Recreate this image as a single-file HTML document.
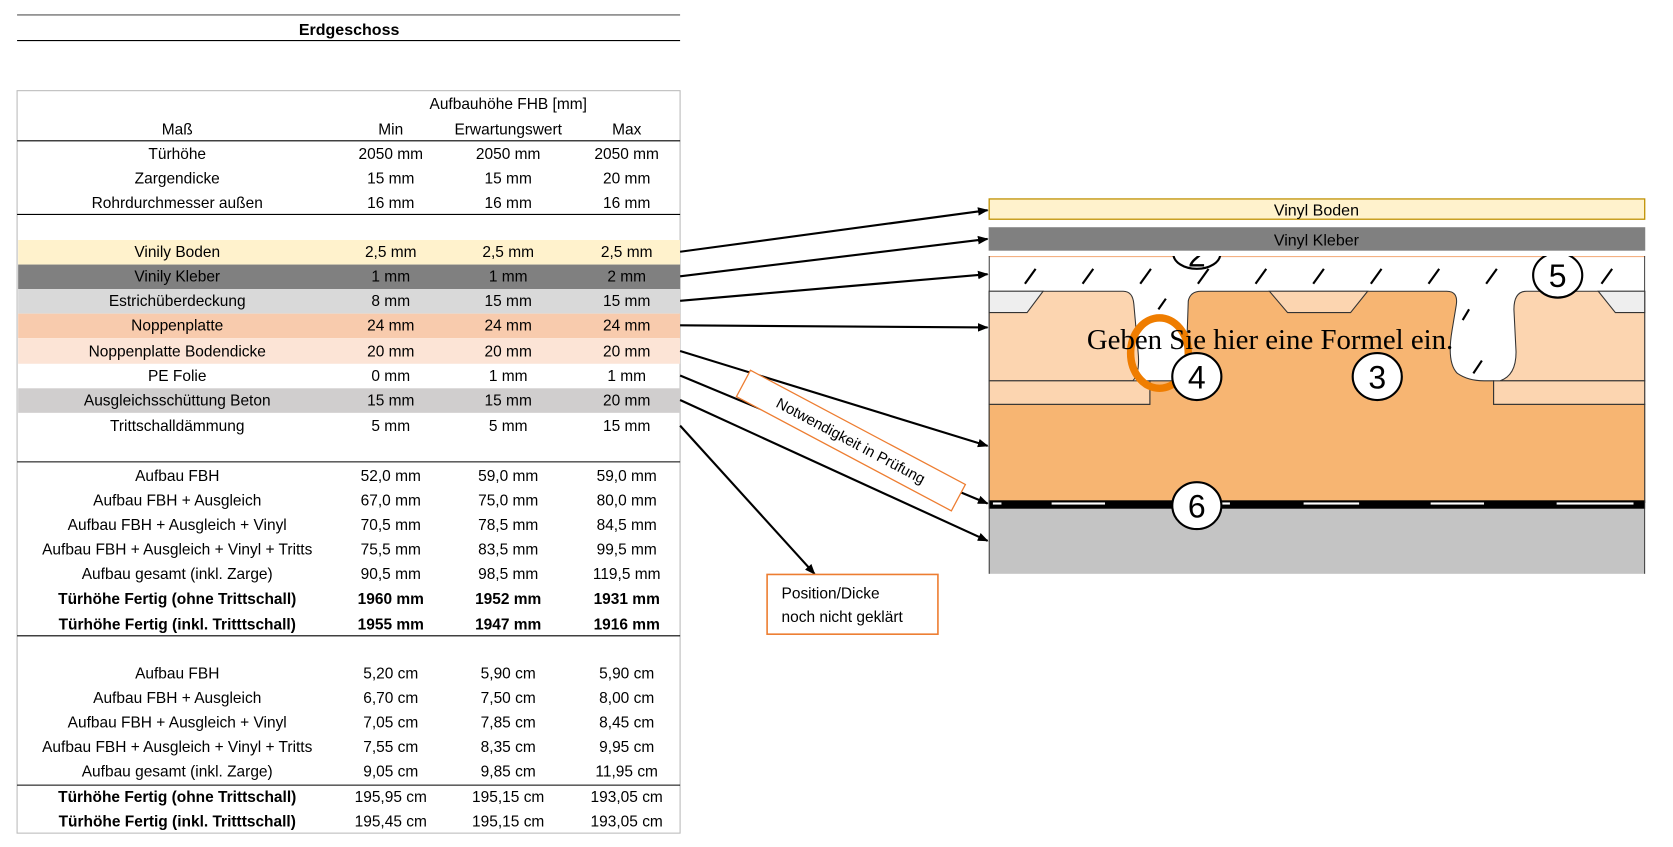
<!DOCTYPE html>
<html><head><meta charset="utf-8"><style>
html,body{margin:0;padding:0;background:#fff;width:1673px;height:847px;overflow:hidden}
svg{display:block}
text{font-family:"Liberation Sans Narrow","Liberation Sans",sans-serif;font-size:14.5px;fill:#000}
.c{text-anchor:middle}
.b{font-weight:bold}
</style></head><body>
<svg width="1673" height="847" viewBox="0 0 1567 794" preserveAspectRatio="none" xmlns="http://www.w3.org/2000/svg">
<defs>
<marker id="ar" markerWidth="10" markerHeight="10" refX="9" refY="5" orient="auto" markerUnits="userSpaceOnUse"><path d="M0,1 L10,5 L0,9 z" fill="#000"/></marker>
<clipPath id="dc"><rect x="926" y="240" width="615" height="298"/></clipPath>
</defs>
<line x1="16" y1="14" x2="637" y2="14" stroke="#555" stroke-width="1"/>
<line x1="16" y1="38" x2="637" y2="38" stroke="#000" stroke-width="1"/>
<text x="327" y="33" class="c b" style="font-size:15px">Erdgeschoss</text>
<rect x="16" y="85" width="621" height="696" fill="none" stroke="#bbb"/>
<rect x="17" y="225" width="620" height="23" fill="#fff2cc"/>
<rect x="17" y="248" width="620" height="23" fill="#808080"/>
<rect x="17" y="271" width="620" height="23" fill="#d9d9d9"/>
<rect x="17" y="294" width="620" height="23" fill="#f8cbad"/>
<rect x="17" y="317" width="620" height="24" fill="#fce4d6"/>
<rect x="17" y="364" width="620" height="23" fill="#d0cece"/>
<line x1="16" y1="132" x2="637" y2="132" stroke="#000"/>
<line x1="16" y1="201" x2="637" y2="201" stroke="#000"/>
<line x1="16" y1="433" x2="637" y2="433" stroke="#000"/>
<line x1="16" y1="596" x2="637" y2="596" stroke="#000"/>
<line x1="16" y1="736" x2="637" y2="736" stroke="#000"/>
<text x="476" y="102" class="c">Aufbauhöhe FHB [mm]</text>
<g class="c">
<text x="166" y="126" class="c">Maß</text><text x="366" y="126" class="c">Min</text><text x="476" y="126" class="c">Erwartungswert</text><text x="587" y="126" class="c">Max</text>
<text x="166" y="149" class="c">Türhöhe</text><text x="366" y="149" class="c">2050  mm</text><text x="476" y="149" class="c">2050  mm</text><text x="587" y="149" class="c">2050  mm</text>
<text x="166" y="172" class="c">Zargendicke</text><text x="366" y="172" class="c">15  mm</text><text x="476" y="172" class="c">15  mm</text><text x="587" y="172" class="c">20  mm</text>
<text x="166" y="195" class="c">Rohrdurchmesser außen</text><text x="366" y="195" class="c">16  mm</text><text x="476" y="195" class="c">16  mm</text><text x="587" y="195" class="c">16  mm</text>
<text x="166" y="241" class="c">Vinily Boden</text><text x="366" y="241" class="c">2,5  mm</text><text x="476" y="241" class="c">2,5  mm</text><text x="587" y="241" class="c">2,5  mm</text>
<text x="166" y="264" class="c">Vinily Kleber</text><text x="366" y="264" class="c">1  mm</text><text x="476" y="264" class="c">1  mm</text><text x="587" y="264" class="c">2  mm</text>
<text x="166" y="287" class="c">Estrichüberdeckung</text><text x="366" y="287" class="c">8  mm</text><text x="476" y="287" class="c">15  mm</text><text x="587" y="287" class="c">15  mm</text>
<text x="166" y="310" class="c">Noppenplatte</text><text x="366" y="310" class="c">24  mm</text><text x="476" y="310" class="c">24  mm</text><text x="587" y="310" class="c">24  mm</text>
<text x="166" y="334" class="c">Noppenplatte Bodendicke</text><text x="366" y="334" class="c">20  mm</text><text x="476" y="334" class="c">20  mm</text><text x="587" y="334" class="c">20  mm</text>
<text x="166" y="357" class="c">PE Folie</text><text x="366" y="357" class="c">0  mm</text><text x="476" y="357" class="c">1  mm</text><text x="587" y="357" class="c">1  mm</text>
<text x="166" y="380" class="c">Ausgleichsschüttung Beton</text><text x="366" y="380" class="c">15  mm</text><text x="476" y="380" class="c">15  mm</text><text x="587" y="380" class="c">20  mm</text>
<text x="166" y="404" class="c">Trittschalldämmung</text><text x="366" y="404" class="c">5  mm</text><text x="476" y="404" class="c">5  mm</text><text x="587" y="404" class="c">15  mm</text>
<text x="166" y="451" class="c">Aufbau FBH</text><text x="366" y="451" class="c">52,0  mm</text><text x="476" y="451" class="c">59,0  mm</text><text x="587" y="451" class="c">59,0  mm</text>
<text x="166" y="474" class="c">Aufbau FBH + Ausgleich</text><text x="366" y="474" class="c">67,0  mm</text><text x="476" y="474" class="c">75,0  mm</text><text x="587" y="474" class="c">80,0  mm</text>
<text x="166" y="497" class="c">Aufbau FBH + Ausgleich + Vinyl</text><text x="366" y="497" class="c">70,5  mm</text><text x="476" y="497" class="c">78,5  mm</text><text x="587" y="497" class="c">84,5  mm</text>
<text x="166" y="520" class="c">Aufbau FBH + Ausgleich + Vinyl + Tritts</text><text x="366" y="520" class="c">75,5  mm</text><text x="476" y="520" class="c">83,5  mm</text><text x="587" y="520" class="c">99,5  mm</text>
<text x="166" y="543" class="c">Aufbau gesamt (inkl. Zarge)</text><text x="366" y="543" class="c">90,5  mm</text><text x="476" y="543" class="c">98,5  mm</text><text x="587" y="543" class="c">119,5  mm</text>
<text x="166" y="566" class="c b">Türhöhe Fertig (ohne Trittschall)</text><text x="366" y="566" class="c b">1960  mm</text><text x="476" y="566" class="c b">1952  mm</text><text x="587" y="566" class="c b">1931  mm</text>
<text x="166" y="590" class="c b">Türhöhe Fertig (inkl. Tritttschall)</text><text x="366" y="590" class="c b">1955  mm</text><text x="476" y="590" class="c b">1947  mm</text><text x="587" y="590" class="c b">1916  mm</text>
<text x="166" y="636" class="c">Aufbau FBH</text><text x="366" y="636" class="c">5,20  cm</text><text x="476" y="636" class="c">5,90  cm</text><text x="587" y="636" class="c">5,90  cm</text>
<text x="166" y="659" class="c">Aufbau FBH + Ausgleich</text><text x="366" y="659" class="c">6,70  cm</text><text x="476" y="659" class="c">7,50  cm</text><text x="587" y="659" class="c">8,00  cm</text>
<text x="166" y="682" class="c">Aufbau FBH + Ausgleich + Vinyl</text><text x="366" y="682" class="c">7,05  cm</text><text x="476" y="682" class="c">7,85  cm</text><text x="587" y="682" class="c">8,45  cm</text>
<text x="166" y="705" class="c">Aufbau FBH + Ausgleich + Vinyl + Tritts</text><text x="366" y="705" class="c">7,55  cm</text><text x="476" y="705" class="c">8,35  cm</text><text x="587" y="705" class="c">9,95  cm</text>
<text x="166" y="728" class="c">Aufbau gesamt (inkl. Zarge)</text><text x="366" y="728" class="c">9,05  cm</text><text x="476" y="728" class="c">9,85  cm</text><text x="587" y="728" class="c">11,95  cm</text>
<text x="166" y="752" class="c b">Türhöhe Fertig (ohne Trittschall)</text><text x="366" y="752" class="c">195,95  cm</text><text x="476" y="752" class="c">195,15  cm</text><text x="587" y="752" class="c">193,05  cm</text>
<text x="166" y="775" class="c b">Türhöhe Fertig (inkl. Tritttschall)</text><text x="366" y="775" class="c">195,45  cm</text><text x="476" y="775" class="c">195,15  cm</text><text x="587" y="775" class="c">193,05  cm</text>
</g>
<rect x="926.5" y="186.5" width="614" height="19" fill="#fff2cc" stroke="#bf9000" stroke-width="1.2"/>
<text x="1233" y="202" class="c" style="font-size:15px">Vinyl Boden</text>
<rect x="926" y="213" width="615" height="22" fill="#808080"/>
<text x="1233" y="230" class="c" style="font-size:15px">Vinyl Kleber</text>
<g clip-path="url(#dc)">
<rect x="926" y="240" width="615" height="298" fill="#fff"/>
<line x1="926" y1="240.5" x2="1541" y2="240.5" stroke="#f4b183" stroke-width="1"/>
<path d="M926,379 L1077,379 L1077,357 L1100,357 Q1111,355 1111,340 L1113,282 Q1115,273 1125,273 L1355,273 Q1366,273 1364,286 L1360,310 Q1355,340 1365,350 Q1375,357 1390,357 L1399,357 L1399,379 L1541,379 L1541,471 L926,471 Z" fill="#f7b572" stroke="#333" stroke-width="1"/>
<path d="M1189,273 L1206,293 L1265,293 L1281,273 Z" fill="#fcd5b0" stroke="#333" stroke-width="1"/>
<path d="M926,273 L1052,273 Q1061,273 1062,285 L1066,330 Q1068,350 1061,357 L926,357 Z" fill="#fcd5b0" stroke="#333" stroke-width="1"/>
<rect x="926" y="357" width="151" height="22" fill="#fcd5b0" stroke="#333" stroke-width="1"/>
<path d="M926,273 L977,273 L962,293 L926,293 Z" fill="#eee" stroke="#333" stroke-width="1"/>
<path d="M1541,273 L1430,273 Q1418,273 1418,290 L1420,330 Q1420,352 1405,357 L1541,357 Z" fill="#fcd5b0" stroke="#333" stroke-width="1"/>
<rect x="1399" y="357" width="142" height="22" fill="#fcd5b0" stroke="#333" stroke-width="1"/>
<path d="M1497,273 L1541,273 L1541,293 L1513,293 Z" fill="#eee" stroke="#333" stroke-width="1"/>
<g stroke="#000" stroke-width="2">
<line x1="960" y1="266" x2="970" y2="252"/><line x1="1014" y1="266" x2="1024" y2="252"/><line x1="1068" y1="266" x2="1078" y2="252"/>
<line x1="1122" y1="266" x2="1132" y2="252"/><line x1="1176" y1="266" x2="1186" y2="252"/><line x1="1230" y1="266" x2="1240" y2="252"/>
<line x1="1284" y1="266" x2="1294" y2="252"/><line x1="1338" y1="266" x2="1348" y2="252"/><line x1="1392" y1="266" x2="1402" y2="252"/>
<line x1="1500" y1="266" x2="1510" y2="252"/>
<line x1="1085" y1="290" x2="1092" y2="280"/><line x1="1370" y1="300" x2="1376" y2="290"/><line x1="1380" y1="350" x2="1388" y2="338"/>
</g>
<rect x="926" y="469" width="615" height="8" fill="#000"/>
<g fill="#fff"><rect x="930" y="471" width="8" height="2"/><rect x="985" y="471" width="50" height="2"/><rect x="1104" y="471" width="48" height="2"/><rect x="1221" y="471" width="52" height="2"/><rect x="1340" y="471" width="50" height="2"/><rect x="1458" y="471" width="72" height="2"/></g>
<rect x="926" y="477" width="615" height="61" fill="#c4c4c4"/>
<line x1="926.5" y1="240" x2="926.5" y2="538" stroke="#333"/>
<line x1="1540.5" y1="240" x2="1540.5" y2="538" stroke="#333"/>
<ellipse cx="1086" cy="331" rx="27" ry="33" fill="none" stroke="#ef7d00" stroke-width="7"/>
<g fill="#fff" stroke="#000" stroke-width="2">
<ellipse cx="1121" cy="238" rx="22" ry="14"/>
<ellipse cx="1121" cy="353" rx="23" ry="22"/>
<ellipse cx="1290" cy="353" rx="23" ry="22"/>
<ellipse cx="1121" cy="474" rx="23" ry="22"/>
<ellipse cx="1459" cy="258" rx="23" ry="21"/>
</g>
<text x="1121" y="364" class="c" style="font-size:30px;font-family:'Liberation Sans',sans-serif">4</text>
<text x="1290" y="364" class="c" style="font-size:30px;font-family:'Liberation Sans',sans-serif">3</text>
<text x="1121" y="485" class="c" style="font-size:30px;font-family:'Liberation Sans',sans-serif">6</text>
<text x="1459" y="269" class="c" style="font-size:30px;font-family:'Liberation Sans',sans-serif">5</text>
<text x="1121" y="250" class="c" style="font-size:30px;font-family:'Liberation Sans',sans-serif">2</text>
<text x="1018" y="327" style="font-family:'Liberation Serif',serif;font-size:27px">Geben Sie hier eine Formel ein.</text>
</g>
<g stroke="#000" stroke-width="2" fill="none" marker-end="url(#ar)">
<line x1="637" y1="236" x2="925" y2="197"/>
<line x1="637" y1="259" x2="925" y2="224"/>
<line x1="637" y1="282" x2="925" y2="257"/>
<line x1="637" y1="305" x2="925" y2="307"/>
<line x1="637" y1="329" x2="925" y2="418"/>
<line x1="637" y1="352" x2="925" y2="472"/>
<line x1="637" y1="375" x2="925" y2="507"/>
<line x1="637" y1="399" x2="763" y2="538"/>
</g>
<g transform="translate(797,413) rotate(28)">
<rect x="-114" y="-14" width="228" height="28" fill="#fff" stroke="#ed7d31" stroke-width="1.2"/>
<text x="0" y="5" class="c" style="font-size:14px">Notwendigkeit in Prüfung</text>
</g>
<rect x="718.5" y="538.5" width="160" height="56" fill="#fff" stroke="#ed7d31" stroke-width="1.5"/>
<text x="732" y="561" style="font-size:14.5px">Position/Dicke</text>
<text x="732" y="583" style="font-size:14.5px">noch nicht geklärt</text>
</svg>
</body></html>
